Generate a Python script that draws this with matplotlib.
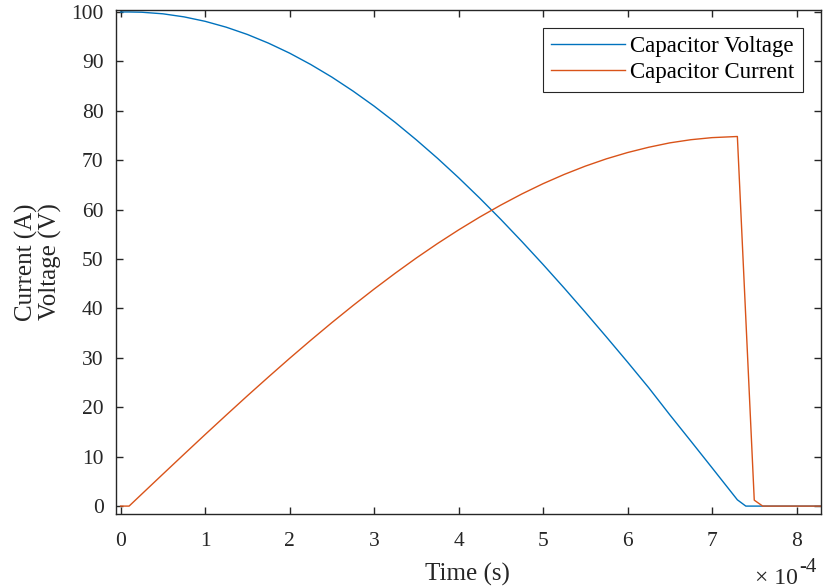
import matplotlib
matplotlib.use('Agg')
import matplotlib.pyplot as plt
import matplotlib.ticker as mticker
import numpy as np

plt.rcParams['font.family'] = ['Liberation Serif', 'DejaVu Serif']

BLUE   = "#0072BD"
ORANGE = "#D95319"
AXIS   = "#262626"

# time in units of 1e-4 s
time_v = [0, 0.1, 0.25, 0.5, 0.75, 1.0, 1.25, 1.5, 1.75, 2.0, 2.25, 2.5, 2.75,
          3.0, 3.25, 3.5, 3.75, 4.0, 4.25, 4.5, 4.75, 5.0, 5.25, 5.5, 5.75,
          6.0, 6.25, 6.5, 6.75, 7.0, 7.3, 7.4, 8.3]
voltage = [100, 100, 99.95, 99.63, 99.01, 98.11, 96.92, 95.45, 93.69, 91.67,
           89.37, 86.82, 84.00, 80.95, 77.65, 74.12, 70.40, 66.46, 62.33,
           58.02, 53.53, 48.90, 44.13, 39.23, 34.23, 29.15, 23.97, 18.48,
           13.14, 7.76, 1.27, 0, 0]

time_i = [0, 0.1, 0.25, 0.5, 0.75, 1.0, 1.25, 1.5, 1.75, 2.0, 2.25, 2.5, 2.75,
          3.0, 3.25, 3.5, 3.75, 4.0, 4.25, 4.5, 4.75, 5.0, 5.25, 5.5, 5.75,
          6.0, 6.25, 6.5, 6.75, 7.0, 7.3, 7.5, 7.6, 8.3]
current = [0, 0, 2.43, 6.47, 10.49, 14.48, 18.42, 22.32, 26.14, 29.90, 33.56,
           37.13, 40.58, 43.92, 47.13, 50.21, 53.13, 55.89, 58.49, 60.92,
           63.18, 65.25, 67.12, 68.80, 70.28, 71.55, 72.62, 73.51, 74.15,
           74.57, 74.8, 1.2, 0, 0]

x_ticks = [0, 1, 2, 3, 4, 5, 6, 7, 8]
y_ticks = [0, 10, 20, 30, 40, 50, 60, 70, 80, 90, 100]

W, H = 823, 588
fig = plt.figure(figsize=(W / 100, H / 100), dpi=100)
ax = fig.add_axes([116 / W, 1 - 514 / H, 705 / W, 504 / H])

ts_v = np.array(time_v) * 1e-4
ts_i = np.array(time_i) * 1e-4
ax.plot(ts_v, voltage, color=BLUE, linewidth=1.0, label="Capacitor Voltage")
ax.plot(ts_i, current, color=ORANGE, linewidth=1.0, label="Capacitor Current")

ax.set_xlim(-0.055e-4, 8.29e-4)
ax.set_ylim(-1.6, 100.4)
ax.set_xticks(np.array(x_ticks) * 1e-4)
ax.xaxis.set_major_formatter(mticker.FuncFormatter(lambda v, _: f"{v / 1e-4:.0f}"))
ax.set_yticks(y_ticks)

ax.tick_params(direction='in', length=5, width=1.0, colors=AXIS,
               labelsize=15.5, top=True, right=True)
ax.tick_params(axis='x', pad=13)
ax.tick_params(axis='y', pad=9)
for spine in ax.spines.values():
    spine.set_edgecolor(AXIS)
    spine.set_linewidth(1.0)

ax.set_xlabel("Time (s)", fontsize=18, color=AXIS)
ax.xaxis.set_label_coords(0.498, -0.097)
ax.set_ylabel("Current (A)\nVoltage (V)", fontsize=18, color=AXIS,
              linespacing=1.05)
ax.yaxis.set_label_coords(-0.076, 0.5)

# exponent label, MATLAB style
fig.text(798 / W, 1 - 584 / H, "\u00d7 10", ha='right', va='baseline',
         fontsize=17, color=AXIS)
fig.text(799 / W, 1 - 572 / H, "-4", ha='left', va='baseline',
         fontsize=15, color=AXIS)

leg = ax.legend(loc='upper right', fontsize=16.5, handlelength=3.2,
                fancybox=False, framealpha=1, edgecolor=AXIS,
                borderaxespad=0.8, borderpad=0.35, labelspacing=0.22,
                handletextpad=0.25)
leg.get_frame().set_linewidth(0.8)

plt.savefig("out.png", dpi=100, facecolor='white')
plt.close()
